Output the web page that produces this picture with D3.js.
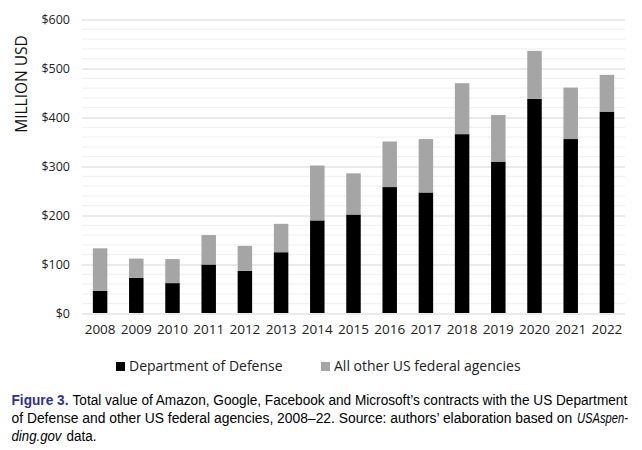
<!DOCTYPE html>
<html>
<head>
<meta charset="utf-8">
<script src="https://cdn.jsdelivr.net/npm/d3@7"></script>
<style>
  body { margin: 0; background: #fff; }
  text { font-family: "Open Sans", sans-serif; }
</style>
</head>
<body>
<script>
// Data (million USD)
var years = ["2008", "2009", "2010", "2011", "2012", "2013", "2014", "2015",
             "2016", "2017", "2018", "2019", "2020", "2021", "2022"];
var defense = [45, 72, 61, 99, 86, 124, 189, 201, 257, 246, 365, 309, 437, 355, 411];
var otherAgencies = [87, 39, 49, 60, 51, 58, 112, 84, 93, 109, 104, 95, 98, 105, 75];
var yTicks = [0, 100, 200, 300, 400, 500, 600];
var seriesNames = ["Department of Defense", "All other US federal agencies"];
var seriesColors = ["#000000", "#a5a5a5"];

var svgWidth = 642;
var svgHeight = 450;
var plot = { left: 82, right: 625, top: 19, bottom: 313 };

var svg = d3.select("body")
  .append("svg")
  .attr("width", svgWidth)
  .attr("height", svgHeight);

var x = d3.scaleBand()
  .domain(years)
  .range([plot.left, plot.right])
  .paddingInner(0.6)
  .paddingOuter(0.3);

var y = d3.scaleLinear()
  .domain([0, 600])
  .range([plot.bottom, plot.top]);

// minor gridlines every 20
svg.append("g")
  .selectAll("line")
  .data(d3.range(20, 600, 20).filter(d => d % 100 !== 0))
  .enter()
  .append("line")
  .attr("x1", plot.left)
  .attr("x2", plot.right)
  .attr("y1", d => y(d) + 0.5)
  .attr("y2", d => y(d) + 0.5)
  .attr("stroke", "#eeeeee")
  .attr("stroke-width", 1);

// major gridlines + y labels
var leftAxis = d3.axisLeft(y)
  .tickValues(yTicks)
  .tickSize(-(plot.right - plot.left))
  .tickPadding(12)
  .tickFormat(d => "$" + d);

svg.append("g")
  .attr("transform", `translate(${plot.left}, 0.5)`)
  .call(leftAxis)
  .call(g => g.select(".domain").remove())
  .call(g => g.selectAll(".tick line").attr("stroke", "#d6d6d6"))
  .call(g => g.selectAll(".tick text")
    .attr("fill", "#222")
    .style("font-size", "12.5px")
    .style("font-family", "'Open Sans', sans-serif"));

// stacked bars
var stackData = years.map((yr, i) => ({ year: yr, dod: defense[i], other: otherAgencies[i] }));
var stacked = d3.stack().keys(["dod", "other"])(stackData);

svg.append("g")
  .selectAll("g")
  .data(stacked)
  .enter()
  .append("g")
  .attr("fill", (d, i) => seriesColors[i])
  .selectAll("rect")
  .data(d => d)
  .enter()
  .append("rect")
  .attr("x", d => x(d.data.year))
  .attr("width", x.bandwidth())
  .attr("y", d => y(d[1]))
  .attr("height", d => y(d[0]) - y(d[1]));

// x axis labels
var bottomAxis = d3.axisBottom(x).tickSize(0).tickPadding(11);
svg.append("g")
  .attr("transform", `translate(0, ${plot.bottom})`)
  .call(bottomAxis)
  .call(g => g.select(".domain").remove())
  .call(g => g.selectAll(".tick text")
    .attr("fill", "#222")
    .style("font-size", "13.5px")
    .style("font-family", "'Open Sans', sans-serif"));

// y axis title
svg.append("text")
  .attr("text-anchor", "middle")
  .attr("transform", "translate(27, 84) rotate(-90)")
  .attr("fill", "#111")
  .style("font-size", "15.5px")
  .text("MILLION USD");

// legend
var legendX = [116, 321];
var legend = svg.append("g");
seriesNames.forEach(function(name, i) {
  legend.append("rect")
    .attr("x", legendX[i])
    .attr("y", 362)
    .attr("width", 9)
    .attr("height", 9)
    .attr("fill", seriesColors[i]);
  legend.append("text")
    .attr("x", legendX[i] + 13)
    .attr("y", 371)
    .attr("fill", "#222")
    .style("font-size", "14px")
    .text(name);
});

// caption: squeeze each piece horizontally so it looks condensed like the original
var cap = svg.append("g")
  .style("font-size", "15.5px")
  .style("font-family", "'Liberation Sans Narrow', 'Liberation Sans', sans-serif");
function capPiece(txt, x0, x1, yb, opts) {
  var t = cap.append("text")
    .style("font-family", "inherit")
    .attr("fill", opts && opts.color ? opts.color : "#000")
    .text(txt);
  if (opts && opts.bold) t.style("font-weight", "bold");
  if (opts && opts.italic) t.style("font-style", "italic");
  var w = t.node().getComputedTextLength();
  t.attr("transform", `translate(${x0}, ${yb}) scale(${(x1 - x0) / w}, 1)`);
}
capPiece("Figure 3.", 11.5, 68.5, 405, { bold: true, color: "#2e3192" });
capPiece("Total value of Amazon, Google, Facebook and Microsoft\u2019s contracts with the US Department", 72.5, 628, 405);
capPiece("of Defense and other US federal agencies, 2008\u201322. Source: authors\u2019 elaboration based on", 11.5, 573, 423);
capPiece("USAspen-", 577, 628, 423, { italic: true });
capPiece("ding.gov", 11.5, 61.5, 441, { italic: true });
capPiece("data.", 66.5, 96.5, 441);
</script>
</body>
</html>
